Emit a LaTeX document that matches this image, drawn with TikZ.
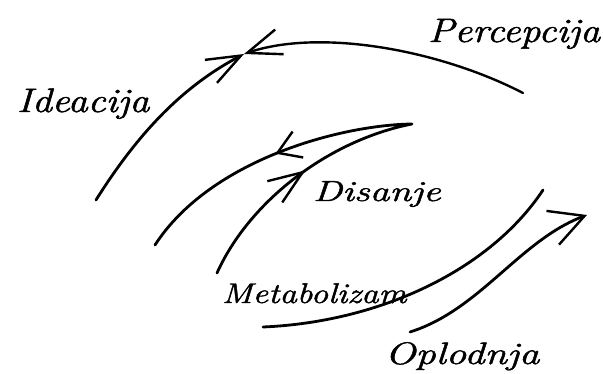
\documentclass[tikz,border=0pt]{standalone}
\usepackage{fontspec}
\newfontfamily\handfont{Latin Modern Roman}[FakeBold=1.4]
\usetikzlibrary{arrows.meta,decorations.markings}
\tikzset{
  stroke/.style={line width=2.8pt, line cap=round, line join=round, black},
  lbl/.style={anchor=base west, inner sep=0pt, outer sep=0pt, text=black},
  tipA/.tip={Straight Barb[length=34pt,width=26pt,line width=2.4pt]},
  tipB/.tip={Straight Barb[length=34pt,width=36pt,line width=2.4pt]},
  tipS/.tip={Straight Barb[length=22pt,width=28pt,line width=2.4pt]},
}
\newcommand{\hw}[3]{\scalebox{#1}[1]{\fontsize{#2}{#2}\selectfont\handfont\itshape #3}}
\begin{document}
\begin{tikzpicture}[x=1pt,y=-1pt]
\useasboundingbox[fill=white] (0,0) rectangle (603,374);
% coordinates
\coordinate (i0) at (96,200);
\coordinate (top) at (244,54);
\coordinate (p0) at (523,93);
\coordinate (h1) at (217,273);
\coordinate (htip) at (412,124);
\coordinate (h2) at (155,245);
\coordinate (m0) at (263,327);
\coordinate (m1) at (543,190);
\coordinate (o0) at (410,332);
\coordinate (o1) at (587,215);
% labels
\node[lbl] (perc) at (428,42) {\hw{1.17}{34}{Percepcija}};
\node[lbl] (idea) at (17,112) {\hw{1.17}{34}{Ideacija}};
\node[lbl] (dis) at (313,201) {\hw{1.36}{29}{Disanje}};
\node[lbl] (meta) at (222,303) {\hw{1.22}{28.5}{Metabolizam}};
\node[lbl] (opl) at (385,364) {\hw{1.31}{31}{Oplodnja}};
% connectors
\draw[stroke, -{tipA}] (i0) .. controls (140,130) and (185,85) .. (top);
\draw[stroke, line width=2.4pt, -{tipA}] (p0) .. controls (440,50) and (320,28) .. (top);
\draw[stroke, decoration={markings,
    mark=at position 0.25 with {\arrow{tipA}},
    mark=at position 0.72 with {\arrow{tipS}}}, postaction={decorate}]
  (h1) .. controls (250,200) and (330,140) .. (htip)
       .. controls (340,125) and (210,160) .. (h2);
\draw[stroke] (m0) .. controls (380,322) and (490,270) .. (m1);
\draw[stroke, -{tipB}] (o0) .. controls (480,310) and (520,240) .. (o1);
\end{tikzpicture}
\end{document}
